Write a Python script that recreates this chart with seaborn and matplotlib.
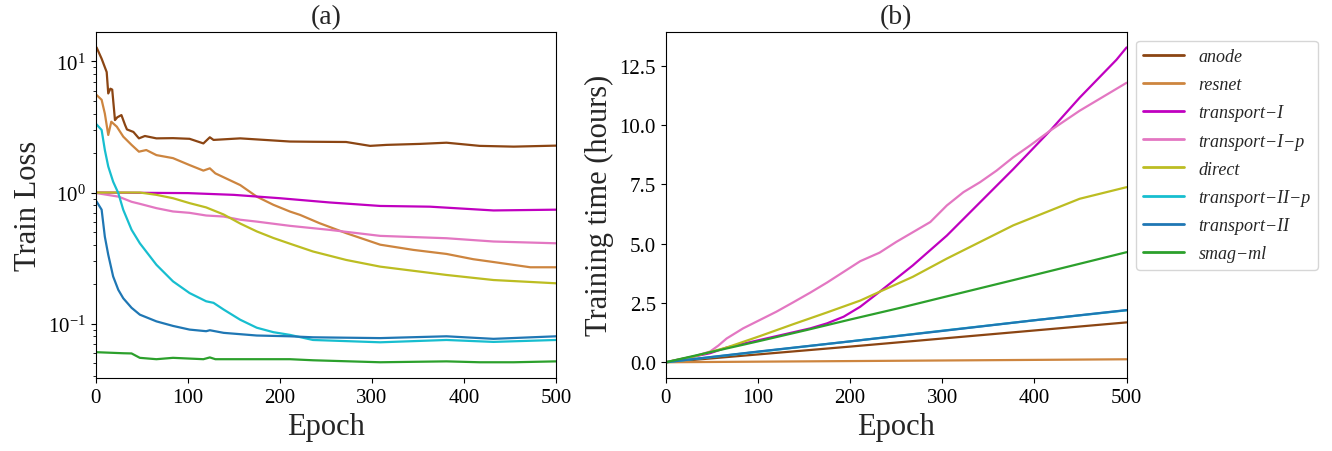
import matplotlib
matplotlib.use("Agg")
import matplotlib.pyplot as plt
from matplotlib.ticker import MultipleLocator, FormatStrFormatter
import seaborn as sns
import pandas as pd

sns.set_style("ticks")
plt.rcParams["font.family"] = ["Liberation Serif", "DejaVu Serif"]
plt.rcParams["mathtext.fontset"] = "stix"
plt.rcParams["axes.edgecolor"] = "black"
plt.rcParams["xtick.color"] = "black"
plt.rcParams["ytick.color"] = "black"

labels = ["anode", "resnet", "transport\u2212I", "transport\u2212I\u2212p", "direct",
          "transport\u2212II\u2212p", "transport\u2212II", "smag\u2212ml"]
colors = ["#8b4513", "#cd853f", "#c000c0", "#e377c2", "#bcbd22", "#17becf", "#1f77b4", "#2ca02c"]

# ---- (a) train loss ----
anode_ep = [0, 1, 6.5, 12, 13.7, 16, 18, 21, 23.5, 28, 32, 34, 41, 47, 53.5, 66, 84, 102, 117, 124, 128, 157, 211,
            236, 272, 298, 316, 352, 381, 417, 454, 500]
anode_loss = [12.6, 12.8, 10.5, 8.3, 5.7, 6.2, 6.1, 3.57, 3.75, 3.9, 3.27, 3.03, 2.9, 2.59, 2.7, 2.59, 2.6, 2.57, 2.37, 2.64, 2.52, 2.59, 2.45,
              2.44, 2.43, 2.27, 2.31, 2.35, 2.4, 2.27, 2.24, 2.28]

resnet_ep = [0, 1, 6.5, 10, 13.7, 17, 23, 30, 39, 47, 55, 66, 84, 102, 117, 124, 130, 157, 175, 193, 211,
             222, 243, 272, 309, 345, 381, 410, 432, 472, 500]
resnet_loss = [5.5, 5.55, 5.1, 4.0, 2.75, 3.47, 3.18, 2.67, 2.31, 2.05, 2.11, 1.93, 1.83, 1.62, 1.47, 1.53, 1.40, 1.14, 0.93, 0.806, 0.716,
               0.675, 0.584, 0.49, 0.40, 0.365, 0.34, 0.31, 0.295, 0.269, 0.269]

tI_ep = [0, 50, 100, 150, 200, 254, 309, 363, 432, 500]
tI_loss = [1.0, 0.995, 0.99, 0.96, 0.905, 0.84, 0.79, 0.78, 0.73, 0.74]

tIp_ep = [0, 1, 25, 39, 48, 66, 84, 102, 120, 139, 157, 175, 211, 254, 309, 381, 432, 500]
tIp_loss = [1.0, 0.99, 0.93, 0.85, 0.82, 0.76, 0.717, 0.70, 0.668, 0.656, 0.62, 0.60, 0.557, 0.519, 0.467, 0.448, 0.423, 0.41]

direct_ep = [0, 48, 66, 84, 102, 120, 139, 157, 175, 193, 211, 236, 272, 309, 381, 432, 500]
direct_loss = [1.0, 1.0, 0.96, 0.905, 0.83, 0.77, 0.68, 0.58, 0.505, 0.45, 0.407, 0.355, 0.306, 0.272, 0.235, 0.215, 0.203]

tIIp_ep = [0, 1, 6.5, 10, 13.7, 19, 24.6, 30, 39, 48, 66, 84, 102, 120, 128, 139, 157, 175, 193, 211,
           236, 309, 381, 432, 500]
tIIp_loss = [3.3, 3.31, 3.0, 2.11, 1.58, 1.21, 0.99, 0.738, 0.52, 0.41, 0.281, 0.21, 0.171, 0.148, 0.144, 0.128, 0.107, 0.093, 0.086, 0.082,
             0.075, 0.072, 0.075, 0.0725, 0.075]

tII_ep = [0, 1, 6.5, 10, 13.7, 19, 24.6, 30, 39, 48, 66, 84, 102, 120, 124, 139, 175, 211,
          236, 309, 381, 432, 500]
tII_loss = [0.85, 0.854, 0.74, 0.46, 0.335, 0.229, 0.181, 0.156, 0.132, 0.117, 0.104, 0.096, 0.090, 0.0875, 0.089, 0.085, 0.0811, 0.080,
            0.0786, 0.0775, 0.080, 0.0765, 0.080]

smag_ep = [0, 1, 30, 39, 48, 66, 84, 117, 124, 130, 211, 236, 309, 381, 417, 454, 500]
smag_loss = [0.0605, 0.0605, 0.0594, 0.0592, 0.0548, 0.0535, 0.0548, 0.0535, 0.0552, 0.0535, 0.0535, 0.0525, 0.0507, 0.0515, 0.0507, 0.0507, 0.0515]

# ---- (b) training time (hours) ----
lin_ep = [0, 100, 200, 300, 400, 500]
anode_time = [0, 0.33, 0.66, 1.0, 1.34, 1.68]
resnet_time = [0, 0.025, 0.05, 0.075, 0.10, 0.126]
tII_time = [0, 0.45, 0.88, 1.32, 1.77, 2.2]
tIIp_time = [0, 0.44, 0.88, 1.33, 1.77, 2.19]

smag_tep = [0, 100, 153, 200, 254, 300, 400, 500]
smag_time = [0, 0.88, 1.36, 1.8, 2.29, 2.73, 3.68, 4.64]

tI_tep = [0, 48, 66, 102, 138, 157, 175, 193, 211, 232, 268, 305, 341, 377, 417, 449, 489, 500]
tI_time = [0, 0.38, 0.62, 0.94, 1.26, 1.43, 1.64, 1.92, 2.34, 2.97, 4.08, 5.34, 6.74, 8.14, 9.76, 11.15, 12.75, 13.27]

tIp_tep = [0, 30, 48, 57, 66, 84, 102, 120, 138, 157, 175, 193, 211, 232, 250, 287, 305, 323, 341, 359, 377, 395, 417, 449, 500]
tIp_time = [0, 0.24, 0.45, 0.70, 1.0, 1.43, 1.78, 2.13, 2.52, 2.94, 3.36, 3.81, 4.26, 4.62, 5.07, 5.91, 6.61, 7.17, 7.59, 8.08, 8.64, 9.13, 9.76, 10.6, 11.78]

direct_tep = [0, 30, 66, 102, 138, 175, 211, 232, 268, 305, 341, 377, 413, 449, 500]
direct_time = [0, 0.24, 0.62, 1.1, 1.6, 2.1, 2.6, 2.97, 3.6, 4.37, 5.07, 5.77, 6.33, 6.89, 7.38]

loss_series = [(anode_ep, anode_loss), (resnet_ep, resnet_loss), (tI_ep, tI_loss), (tIp_ep, tIp_loss),
               (direct_ep, direct_loss), (tIIp_ep, tIIp_loss), (tII_ep, tII_loss), (smag_ep, smag_loss)]
time_series = [(lin_ep, anode_time), (lin_ep, resnet_time), (tI_tep, tI_time), (tIp_tep, tIp_time),
               (direct_tep, direct_time), (lin_ep, tIIp_time), (lin_ep, tII_time), (smag_tep, smag_time)]

fig = plt.figure(figsize=(13.32, 4.52), dpi=100)
ax1 = fig.add_axes([0.0718, 0.1615, 0.3457, 0.7662])
ax2 = fig.add_axes([0.4998, 0.1615, 0.3460, 0.7662])

lw = 1.6
for (x, y), c, lab in zip(loss_series, colors, labels):
    df = pd.DataFrame({"Epoch": x, "val": y})
    sns.lineplot(data=df, x="Epoch", y="val", ax=ax1, color=c, lw=lw, estimator=None, sort=False)
for (x, y), c, lab in zip(time_series, colors, labels):
    df = pd.DataFrame({"Epoch": x, "val": y})
    sns.lineplot(data=df, x="Epoch", y="val", ax=ax2, color=c, lw=lw, estimator=None, sort=False,
                 label=lab)

ax1.set_yscale("log")
ax2.yaxis.set_major_locator(MultipleLocator(2.5))
ax2.yaxis.set_major_formatter(FormatStrFormatter("%.1f"))
for ax in (ax1, ax2):
    ax.set_xlim(0, 500)
    ax.set_xlabel("Epoch", fontsize=22)
    ax.tick_params(labelsize=15)
    for s in ax.spines.values():
        s.set_visible(True)
        s.set_color("black")
ax1.set_ylabel("Train Loss", fontsize=22)
ax2.set_ylabel("Training time (hours)", fontsize=22)
ax1.set_title("(a)", fontsize=20, pad=6)
ax2.set_title("(b)", fontsize=20, pad=6)

leg = ax2.legend(loc="upper left", bbox_to_anchor=(1136 / 1332, 1 - 41.7 / 452),
                 bbox_transform=fig.transFigure, borderaxespad=0,
                 handlelength=2.25, labelspacing=0.62, prop={"style": "italic", "size": 13})
for line in leg.get_lines():
    line.set_linewidth(2.0)

fig.savefig("out.png", dpi=100)
